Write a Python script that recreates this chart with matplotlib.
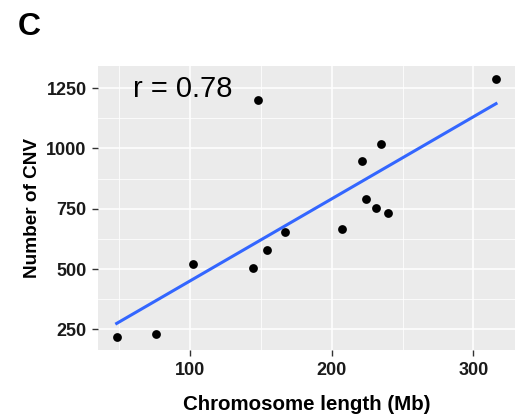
import numpy as np
import matplotlib
matplotlib.use("Agg")
import matplotlib.pyplot as plt

# Chromosome length (Mb) vs. number of CNVs per chromosome
chrom_length = [48, 76, 102, 144, 148, 154, 167, 207, 221, 224, 231, 235, 240, 316]
cnv_count = [219, 232, 522, 506, 1200, 579, 652, 665, 949, 789, 753, 1020, 731, 1288]

x_ticks = [100, 200, 300]
y_ticks = [250, 500, 750, 1000, 1250]
r_label = "r = 0.78"
panel_tag = "C"

plt.rcParams['font.family'] = ['Liberation Sans', 'DejaVu Sans']

fig = plt.figure(figsize=(5.18, 4.17), dpi=100)
ax = fig.add_axes([0.1886, 0.161, 0.8056, 0.6807])

x = np.array(chrom_length, dtype=float)
y = np.array(cnv_count, dtype=float)

# linear fit (geom_smooth method = "lm", no ribbon)
slope, intercept = np.polyfit(x, y, 1)
xs = np.linspace(x.min(), x.max(), 100)
ax.plot(xs, slope * xs + intercept, color='#3366FF', lw=2.2, zorder=3)
ax.scatter(x, y, s=40, color='black', zorder=4, linewidths=0)

pad_x = 0.05 * (x.max() - x.min())
pad_y = 0.05 * (y.max() - y.min())
ax.set_xlim(x.min() - pad_x, x.max() + pad_x)
ax.set_ylim(y.min() - pad_y, y.max() + pad_y)

# ggplot-like grey panel with white grid
ax.set_facecolor('#EBEBEB')
for s in ax.spines.values():
    s.set_visible(False)
ax.set_xticks(x_ticks)
ax.set_yticks(y_ticks)
ax.set_xticks([50, 150, 250], minor=True)
ax.set_yticks([375, 625, 875, 1125], minor=True)
ax.grid(which='major', color='white', lw=1.1)
ax.grid(which='minor', color='white', lw=0.55)
ax.set_axisbelow(True)
ax.tick_params(which='minor', length=0)
ax.tick_params(which='major', length=4, width=1.0, color='#333333')
ax.tick_params(axis='x', pad=5)
ax.tick_params(axis='y', pad=4)
for lab in ax.get_xticklabels() + ax.get_yticklabels():
    lab.set_fontweight('bold')
    lab.set_fontsize(13)
    lab.set_color('#1a1a1a')

ax.set_xlabel('Chromosome length (Mb)', fontsize=14.8, fontweight='bold', labelpad=11)
ax.set_ylabel('Number of CNV', fontsize=13.7, fontweight='bold', labelpad=4)

ax.text(0.085, 0.92, r_label, transform=ax.transAxes, fontsize=21,
        ha='left', va='center', color='black')

fig.text(0.035, 0.935, panel_tag, fontsize=23, fontweight='bold', va='center', ha='left')

fig.savefig('out.png', dpi=100)
